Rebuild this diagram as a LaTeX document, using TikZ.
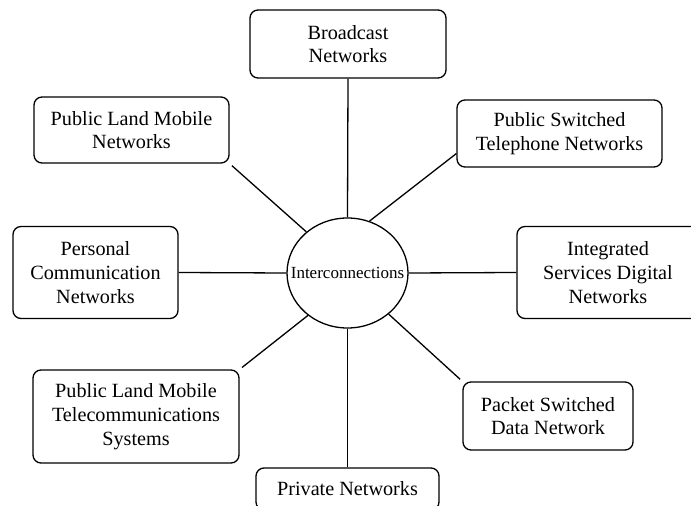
\documentclass[tikz,border=0pt]{standalone}
\usepackage{fontspec}
\setmainfont{Liberation Serif}
\usetikzlibrary{shapes.geometric}
\begin{document}
\begin{tikzpicture}[x=1bp,y=-1bp,line width=1.3bp,
  netbox/.style={draw,rounded corners=8bp,align=center,inner sep=0pt,
    font=\fontsize{20.2bp}{23.8bp}\selectfont},
  hub/.style={draw,ellipse,inner sep=0pt,minimum width=121bp,minimum height=110bp,
    font=\fontsize{17bp}{20bp}\selectfont},
  link/.style={line width=1.3bp}]
\useasboundingbox (0,0) rectangle (691,506);
\clip (0,0) rectangle (691,506);
\node[hub] (ic) at (347.5,273) {\makebox[0pt]{Interconnections}};
\node[netbox,minimum width=196bp,minimum height=68bp] (bc) at (348,44) {Broadcast\\Networks};
\node[netbox,minimum width=195bp,minimum height=66bp] (plm) at (131.5,130) {Public Land Mobile\\Networks};
\node[netbox,minimum width=205bp,minimum height=67bp] (pstn) at (559.5,133.5) {Public Switched\\Telephone Networks};
\node[netbox,minimum width=165bp,minimum height=92bp] (pcn) at (95.5,272.5) {Personal\\Communication\\Networks};
\node[netbox,minimum width=182bp,minimum height=92bp] (isdn) at (608,272.5) {Integrated\\Services Digital\\Networks};
\node[netbox,minimum width=206bp,minimum height=93bp] (plmts) at (136,416.5) {Public Land Mobile\\Telecommunications\\Systems};
\node[netbox,minimum width=170bp,minimum height=68bp] (psdn) at (548,416) {Packet Switched\\Data Network};
\node[netbox,minimum width=183bp,minimum height=42bp] (priv) at (347.5,489) {Private Networks};
\draw[link] (ic.north) -- (bc.south);
\draw[link] (ic.south) -- (priv.north);
\draw[link] (ic.west) -- (pcn.east);
\draw[link] (ic.east) -- (isdn.west);
\draw[link,shorten >=3bp] (ic.135) -- (plm.south east);
\draw[link] (ic.67) -- (pstn.191);
\draw[link,shorten >=3bp] (ic.227) -- (plmts.north east);
\draw[link,shorten >=3bp] (ic.315) -- (psdn.north west);
\end{tikzpicture}
\end{document}
